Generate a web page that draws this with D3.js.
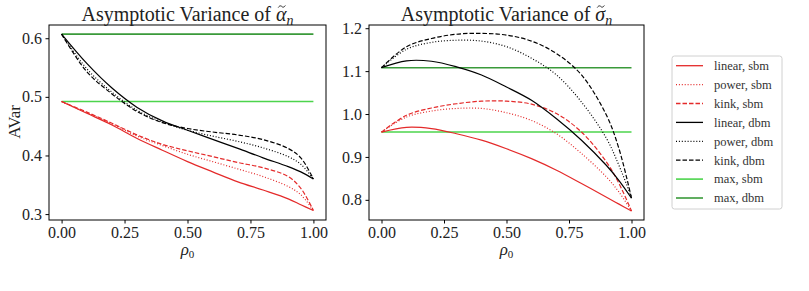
<!DOCTYPE html>
<html>
<head>
<meta charset="utf-8">
<script src="https://cdn.jsdelivr.net/npm/d3@7"></script>
<style>
body { margin: 0; background: #fff; }
text { font-family: "Liberation Serif", "DejaVu Serif", serif; }
</style>
</head>
<body>
<div id="chart"></div>
<script>
// rho_0 grid
const rho = [0, 0.1, 0.2, 0.3, 0.4, 0.5, 0.6, 0.7, 0.8, 0.9, 0.95, 1];

// left: alpha
const alphaLinearSbm = [0.492, 0.472, 0.452, 0.429, 0.409, 0.3895, 0.372, 0.355, 0.341, 0.326, 0.316, 0.306];
const alphaPowerSbm  = [0.492, 0.473, 0.454, 0.433, 0.417, 0.402, 0.3895, 0.377, 0.364, 0.347, 0.333, 0.306];
const alphaKinkSbm   = [0.492, 0.474, 0.455, 0.435, 0.419, 0.408, 0.398, 0.388, 0.379, 0.364, 0.344, 0.306];
const alphaLinearDbm = [0.607, 0.557, 0.515, 0.482, 0.459, 0.443, 0.4275, 0.412, 0.396, 0.381, 0.372, 0.36];
const alphaPowerDbm  = [0.607, 0.548, 0.508, 0.477, 0.457, 0.443, 0.433, 0.424, 0.413, 0.398, 0.385, 0.36];
const alphaKinkDbm   = [0.607, 0.543, 0.505, 0.475, 0.456, 0.446, 0.44, 0.435, 0.427, 0.412, 0.396, 0.36];
const alphaMaxSbm = 0.492;
const alphaMaxDbm = 0.607;

// right: sigma
const sigmaLinearSbm = [0.958, 0.969, 0.966, 0.954, 0.939, 0.919, 0.896, 0.869, 0.838, 0.806, 0.79, 0.774];
const sigmaPowerSbm  = [0.958, 0.993, 1.007, 1.013, 1.013, 1.003, 0.985, 0.954, 0.908, 0.853, 0.818, 0.774];
const sigmaKinkSbm   = [0.958, 0.997, 1.014, 1.024, 1.03, 1.03, 1.023, 1.001, 0.958, 0.888, 0.838, 0.774];
const sigmaLinearDbm = [1.108, 1.124, 1.123, 1.11, 1.091, 1.063, 1.032, 0.989, 0.939, 0.88, 0.845, 0.804];
const sigmaPowerDbm  = [1.108, 1.151, 1.167, 1.172, 1.17, 1.157, 1.13, 1.091, 1.028, 0.943, 0.88, 0.806];
const sigmaKinkDbm   = [1.108, 1.157, 1.176, 1.186, 1.188, 1.184, 1.17, 1.141, 1.091, 0.997, 0.919, 0.804];
const sigmaMaxSbm = 0.958;
const sigmaMaxDbm = 1.108;

const xTicks = [0, 0.25, 0.5, 0.75, 1];
const alphaTicks = [0.3, 0.4, 0.5, 0.6];
const sigmaTicks = [0.8, 0.9, 1.0, 1.1, 1.2];
const legendLabels = ['linear, sbm', 'power, sbm', 'kink, sbm', 'linear, dbm', 'power, dbm', 'kink, dbm', 'max, sbm', 'max, dbm'];

const red = '#e42a2a', green1 = '#4cd44c', green2 = '#3a9a3a';
const styles = [
  {color: red, dash: null},
  {color: red, dash: '1,1.9'},
  {color: red, dash: '4.5,2'},
  {color: '#000', dash: null},
  {color: '#000', dash: '1,1.9'},
  {color: '#000', dash: '4.5,2'},
  {color: green1, dash: null, w: 1.6},
  {color: green2, dash: null, w: 1.6}
];

const width = 809, height = 291;
const svg = d3.select('#chart').append('svg')
  .attr('width', width).attr('height', height);

function panel(opts) {
  const x = d3.scaleLinear().domain([-0.05, 1.05]).range([opts.left, opts.right]);
  const y = d3.scaleLinear().domain(opts.ydom).range([220, 25]);
  const g = svg.append('g');

  const line = d3.line().x((d, i) => x(rho[i])).y(d => y(d)).curve(d3.curveCatmullRom);

  // horizontal max lines first
  [[opts.maxSbm, styles[6]], [opts.maxDbm, styles[7]]].forEach(([v, s]) => {
    g.append('path')
      .attr('d', d3.line()([[x(0), y(v)], [x(1), y(v)]]))
      .attr('stroke', s.color).attr('stroke-width', s.w).attr('fill', 'none');
  });

  opts.series.forEach((vals, k) => {
    const s = styles[k];
    g.append('path')
      .attr('d', line(vals))
      .attr('fill', 'none')
      .attr('stroke', s.color)
      .attr('stroke-width', 1.2)
      .attr('stroke-dasharray', s.dash);
  });

  g.append('rect')
    .attr('x', opts.left).attr('y', 25)
    .attr('width', opts.right - opts.left).attr('height', 195)
    .attr('fill', 'none').attr('stroke', '#000').attr('stroke-width', 1);

  const xa = g.append('g').attr('transform', 'translate(0,220)')
    .call(d3.axisBottom(x).tickValues(xTicks).tickFormat(d3.format('.2f')).tickSize(3.5).tickPadding(3));
  const ya = g.append('g').attr('transform', `translate(${opts.left},0)`)
    .call(d3.axisLeft(y).tickValues(opts.yticks).tickFormat(d3.format('.1f')).tickSize(3.5).tickPadding(3.5));
  [xa, ya].forEach(a => {
    a.attr('font-family', null);
    a.select('.domain').remove();
    a.selectAll('text').attr('font-size', 16).attr('fill', '#222');
  });

  // x label rho_0
  const xl = g.append('text')
    .attr('x', (opts.left + opts.right) / 2).attr('y', 255)
    .attr('text-anchor', 'middle').attr('font-size', 17).attr('fill', '#222');
  xl.append('tspan').style('font-style', 'italic').text('ρ');
  xl.append('tspan').attr('dy', 3).attr('font-size', 11).text('0');

  // title
  const t = g.append('text')
    .attr('x', (opts.left + opts.right) / 2).attr('y', 21)
    .attr('text-anchor', 'middle').attr('font-size', 20).attr('fill', '#222');
  const head = 'Asymptotic Variance of ';
  t.append('tspan').text(head);
  t.append('tspan').style('font-style', 'italic').text(opts.sym);
  t.append('tspan').attr('dy', 4).attr('font-size', 14).style('font-style', 'italic').text('n');
  // tilde over the greek letter, drawn as a small wave
  const ext = t.node().getExtentOfChar(head.length);
  const cx = ext.x + ext.width / 2 + 0.5, cy = 6.5;
  g.append('path')
    .attr('d', `M${cx - 3.5},${cy + 1} C${cx - 2},${cy - 1.5} ${cx - 0.5},${cy - 0.5} ${cx},${cy} S${cx + 2},${cy + 1.5} ${cx + 3.5},${cy - 1}`)
    .attr('fill', 'none').attr('stroke', '#222').attr('stroke-width', 1);
}

panel({
  left: 49, right: 326, ydom: [0.2899, 0.6226], yticks: alphaTicks,
  series: [alphaLinearSbm, alphaPowerSbm, alphaKinkSbm, alphaLinearDbm, alphaPowerDbm, alphaKinkDbm],
  maxSbm: alphaMaxSbm, maxDbm: alphaMaxDbm, sym: 'α'
});
panel({
  left: 369, right: 644, ydom: [0.753, 1.2075], yticks: sigmaTicks,
  series: [sigmaLinearSbm, sigmaPowerSbm, sigmaKinkSbm, sigmaLinearDbm, sigmaPowerDbm, sigmaKinkDbm],
  maxSbm: sigmaMaxSbm, maxDbm: sigmaMaxDbm, sym: 'σ'
});

// y label
svg.append('text')
  .attr('transform', 'translate(20,122) rotate(-90)')
  .attr('text-anchor', 'middle').attr('font-size', 17).attr('fill', '#222')
  .text('AVar');

// legend
const lg = svg.append('g').attr('transform', 'translate(672,56)');
lg.append('rect')
  .attr('width', 110).attr('height', 153).attr('rx', 2.5)
  .attr('fill', '#fff').attr('stroke', '#d0d0d0').attr('stroke-width', 1);
legendLabels.forEach((lab, i) => {
  const s = styles[i];
  const yy = 9.7 + i * 18.9;
  lg.append('line')
    .attr('x1', 4).attr('x2', 31).attr('y1', yy).attr('y2', yy)
    .attr('stroke', s.color).attr('stroke-width', s.w || 1.3)
    .attr('stroke-dasharray', s.dash);
  lg.append('text')
    .attr('x', 42).attr('y', yy + 4.3)
    .attr('font-size', 12.5).attr('fill', '#333')
    .text(lab);
});
</script>
</body>
</html>
